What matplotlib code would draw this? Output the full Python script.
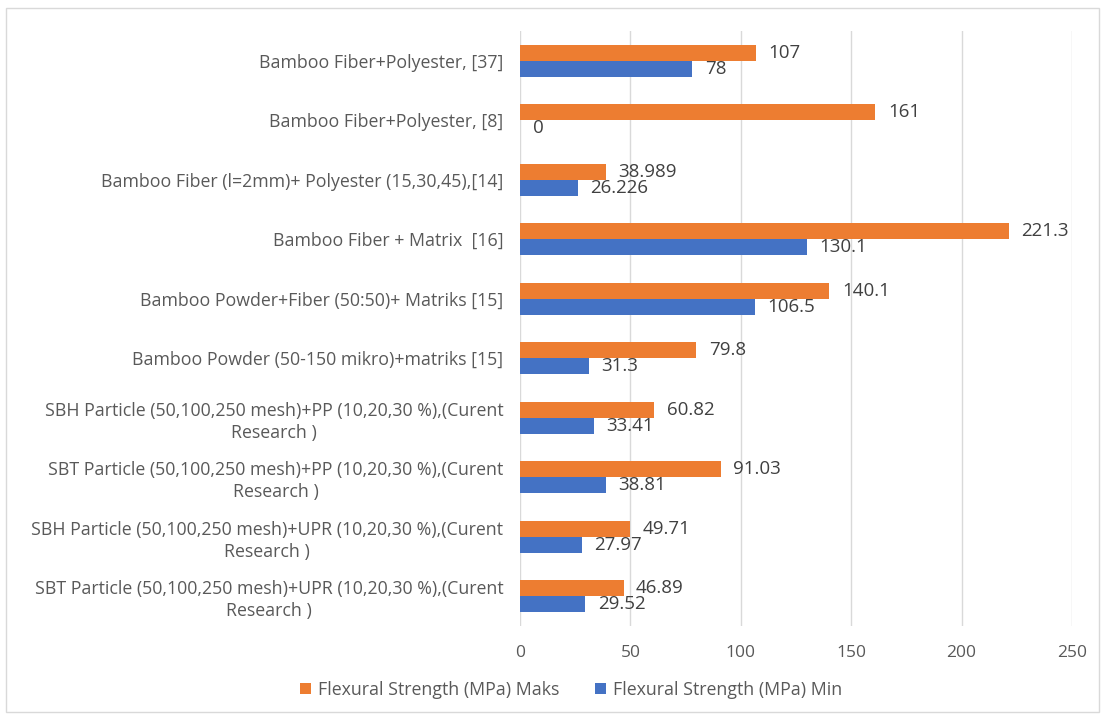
import matplotlib
matplotlib.use("Agg")
import matplotlib.pyplot as plt
import numpy as np
from matplotlib.patches import Rectangle

# Categories listed top to bottom
categories = [
    "Bamboo Fiber+Polyester, [37]",
    "Bamboo Fiber+Polyester, [8]",
    "Bamboo Fiber (l=2mm)+ Polyester (15,30,45),[14]",
    "Bamboo Fiber + Matrix  [16]",
    "Bamboo Powder+Fiber (50:50)+ Matriks [15]",
    "Bamboo Powder (50-150 mikro)+matriks [15]",
    "SBH Particle (50,100,250 mesh)+PP (10,20,30 %),(Curent\nResearch )",
    "SBT Particle (50,100,250 mesh)+PP (10,20,30 %),(Curent\nResearch )",
    "SBH Particle (50,100,250 mesh)+UPR (10,20,30 %),(Curent\nResearch )",
    "SBT Particle (50,100,250 mesh)+UPR (10,20,30 %),(Curent\nResearch )",
]
maks_values = [107, 161, 38.989, 221.3, 140.1, 79.8, 60.82, 91.03, 49.71, 46.89]
min_values = [78, 0, 26.226, 130.1, 106.5, 31.3, 33.41, 38.81, 27.97, 29.52]
maks_labels = ["107", "161", "38.989", "221.3", "140.1", "79.8", "60.82", "91.03", "49.71", "46.89"]
min_labels = ["78", "0", "26.226", "130.1", "106.5", "31.3", "33.41", "38.81", "27.97", "29.52"]

ORANGE = "#ED7D31"
BLUE = "#4472C4"
TEXT = "#595959"

plt.rcParams['font.family'] = ['Open Sans', 'DejaVu Sans']

fig = plt.figure(figsize=(11.05, 7.2), dpi=100)
ax = fig.add_axes([0.4706, 0.1306, 0.4995, 0.8264])

y = np.arange(len(categories))
h = 0.27
bars_max = ax.barh(y - h / 2, maks_values, height=h, color=ORANGE,
                   label="Flexural Strength (MPa) Maks", zorder=3)
bars_min = ax.barh(y + h / 2, min_values, height=h, color=BLUE,
                   label="Flexural Strength (MPa) Min", zorder=3)

ax.bar_label(bars_max, labels=maks_labels, padding=9, fontsize=13.5, color="#404040")
ax.bar_label(bars_min, labels=min_labels, padding=9, fontsize=13.5, color="#404040")

ax.set_xlim(0, 250)
ax.set_ylim(len(categories) - 0.5, -0.5)
ax.set_xticks([0, 50, 100, 150, 200, 250])
ax.set_yticks(y)
ax.set_yticklabels(categories, multialignment="center", linespacing=1.3)

ax.grid(axis="x", color="#D9D9D9", linewidth=1, zorder=0)
for s in ax.spines.values():
    s.set_visible(False)
ax.tick_params(axis="both", length=0, labelcolor=TEXT)
ax.tick_params(axis="y", labelsize=12.8, pad=12)
ax.tick_params(axis="x", labelsize=12.5, pad=14)

fig.legend(handles=[bars_max, bars_min], loc="center", bbox_to_anchor=(0.517, 0.042),
           ncol=2, frameon=False, fontsize=12.8, labelcolor=TEXT,
           handlelength=0.6, handleheight=0.6, columnspacing=2.0, handletextpad=0.4)

# light outer frame
fig.patches.append(Rectangle((0.005, 0.011), 0.99, 0.978, transform=fig.transFigure,
                             fill=False, edgecolor="#D9D9D9", linewidth=1))

fig.savefig("out.png", dpi=100)
